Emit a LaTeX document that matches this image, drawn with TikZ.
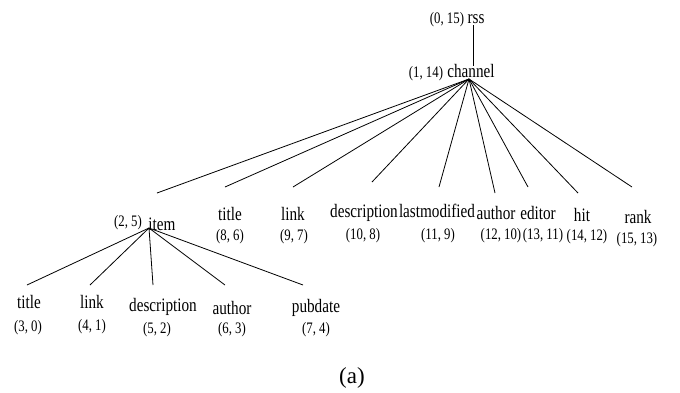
\documentclass[tikz,border=0pt]{standalone}
\usepackage{fontspec}
\setmainfont{Liberation Serif}
\newfontfamily\narrowfont[FakeStretch=0.8]{Liberation Serif}
\usetikzlibrary{calc, positioning}
\tikzset{
    labelnode/.style = {draw=none, fill=none, rectangle, inner sep=0em, anchor=base,
      font=\narrowfont\fontsize{19}{19}\selectfont},
    numnode/.style = {draw=none, fill=none, rectangle, inner sep=0em, anchor=base,
      font=\narrowfont\fontsize{16}{16}\selectfont},
    captionnode/.style = {draw=none, fill=none, rectangle, inner sep=0em, anchor=base,
      font=\fontsize{23}{23}\selectfont},
    connect/.style = {black, line width=0.8pt, -}
}

\begin{document}
\begin{tikzpicture}[x=1pt, y=-1pt]
    \useasboundingbox (0,0) rectangle (680,392);

    % root and channel
    \node [labelnode, name=Rss] at (476,23) {rss};
    \node [numnode, name=RssNum] at (447,23) {(0, 15)};
    \node [labelnode, name=Channel] at (471,77) {channel};
    \node [numnode, name=ChannelNum] at (426,77) {(1, 14)};
    \coordinate (RssFoot) at (473,25);
    \coordinate (ChannelHead) at (473,66);
    \coordinate (ChannelHub) at (469,79);
    \draw (RssFoot) edge[connect] (ChannelHead);

    % children of channel
    \node [labelnode, name=Item] at (162,230) {item};
    \node [numnode, name=ItemNum] at (128,226) {(2, 5)};
    \node [labelnode, name=ChTitle] at (230,220) {title};
    \node [numnode, name=ChTitleNum] at (230,240) {(8, 6)};
    \node [labelnode, name=ChLink] at (293,220) {link};
    \node [numnode, name=ChLinkNum] at (294,240) {(9, 7)};
    \node [labelnode, name=ChDescription] at (364,217) {description};
    \node [numnode, name=ChDescriptionNum] at (363,239) {(10, 8)};
    \node [labelnode, name=ChLastmodified] at (437,217) {lastmodified};
    \node [numnode, name=ChLastmodifiedNum] at (438,239) {(11, 9)};
    \node [labelnode, name=ChAuthor] at (496,219) {author};
    \node [numnode, name=ChAuthorNum] at (501,239) {(12, 10)};
    \node [labelnode, name=ChEditor] at (538,219) {editor};
    \node [numnode, name=ChEditorNum] at (543,239) {(13, 11)};
    \node [labelnode, name=ChHit] at (582,221) {hit};
    \node [numnode, name=ChHitNum] at (587,240) {(14, 12)};
    \node [labelnode, name=ChRank] at (638,223) {rank};
    \node [numnode, name=ChRankNum] at (637,243) {(15, 13)};

    \coordinate (ItemTop) at (157,193);
    \coordinate (ChTitleTop) at (225,187);
    \coordinate (ChLinkTop) at (293,187);
    \coordinate (ChDescriptionTop) at (372,182);
    \coordinate (ChLastmodifiedTop) at (439,187);
    \coordinate (ChAuthorTop) at (495,193);
    \coordinate (ChEditorTop) at (528,187);
    \coordinate (ChHitTop) at (578,193);
    \coordinate (ChRankTop) at (632,187);
    \draw (ChannelHub) edge[connect] (ItemTop);
    \draw (ChannelHub) edge[connect] (ChTitleTop);
    \draw (ChannelHub) edge[connect] (ChLinkTop);
    \draw (ChannelHub) edge[connect] (ChDescriptionTop);
    \draw (ChannelHub) edge[connect] (ChLastmodifiedTop);
    \draw (ChannelHub) edge[connect] (ChAuthorTop);
    \draw (ChannelHub) edge[connect] (ChEditorTop);
    \draw (ChannelHub) edge[connect] (ChHitTop);
    \draw (ChannelHub) edge[connect] (ChRankTop);

    % children of item
    \coordinate (ItemHub) at (149,228);
    \node [labelnode, name=ItTitle] at (29,308) {title};
    \node [numnode, name=ItTitleNum] at (28,331) {(3, 0)};
    \node [labelnode, name=ItLink] at (92,308) {link};
    \node [numnode, name=ItLinkNum] at (92,330) {(4, 1)};
    \node [labelnode, name=ItDescription] at (163,311) {description};
    \node [numnode, name=ItDescriptionNum] at (157,333) {(5, 2)};
    \node [labelnode, name=ItAuthor] at (232,314) {author};
    \node [numnode, name=ItAuthorNum] at (232,333) {(6, 3)};
    \node [labelnode, name=ItPubdate] at (316,312) {pubdate};
    \node [numnode, name=ItPubdateNum] at (316,333) {(7, 4)};

    \coordinate (ItTitleTop) at (27,285);
    \coordinate (ItLinkTop) at (90,285);
    \coordinate (ItDescriptionTop) at (153,285);
    \coordinate (ItAuthorTop) at (225,285);
    \coordinate (ItPubdateTop) at (303,285);
    \draw (ItemHub) edge[connect] (ItTitleTop);
    \draw (ItemHub) edge[connect] (ItLinkTop);
    \draw (ItemHub) edge[connect] (ItDescriptionTop);
    \draw (ItemHub) edge[connect] (ItAuthorTop);
    \draw (ItemHub) edge[connect] (ItPubdateTop);

    \node [captionnode, name=Caption] at (352,383) {(a)};
\end{tikzpicture}
\end{document}
